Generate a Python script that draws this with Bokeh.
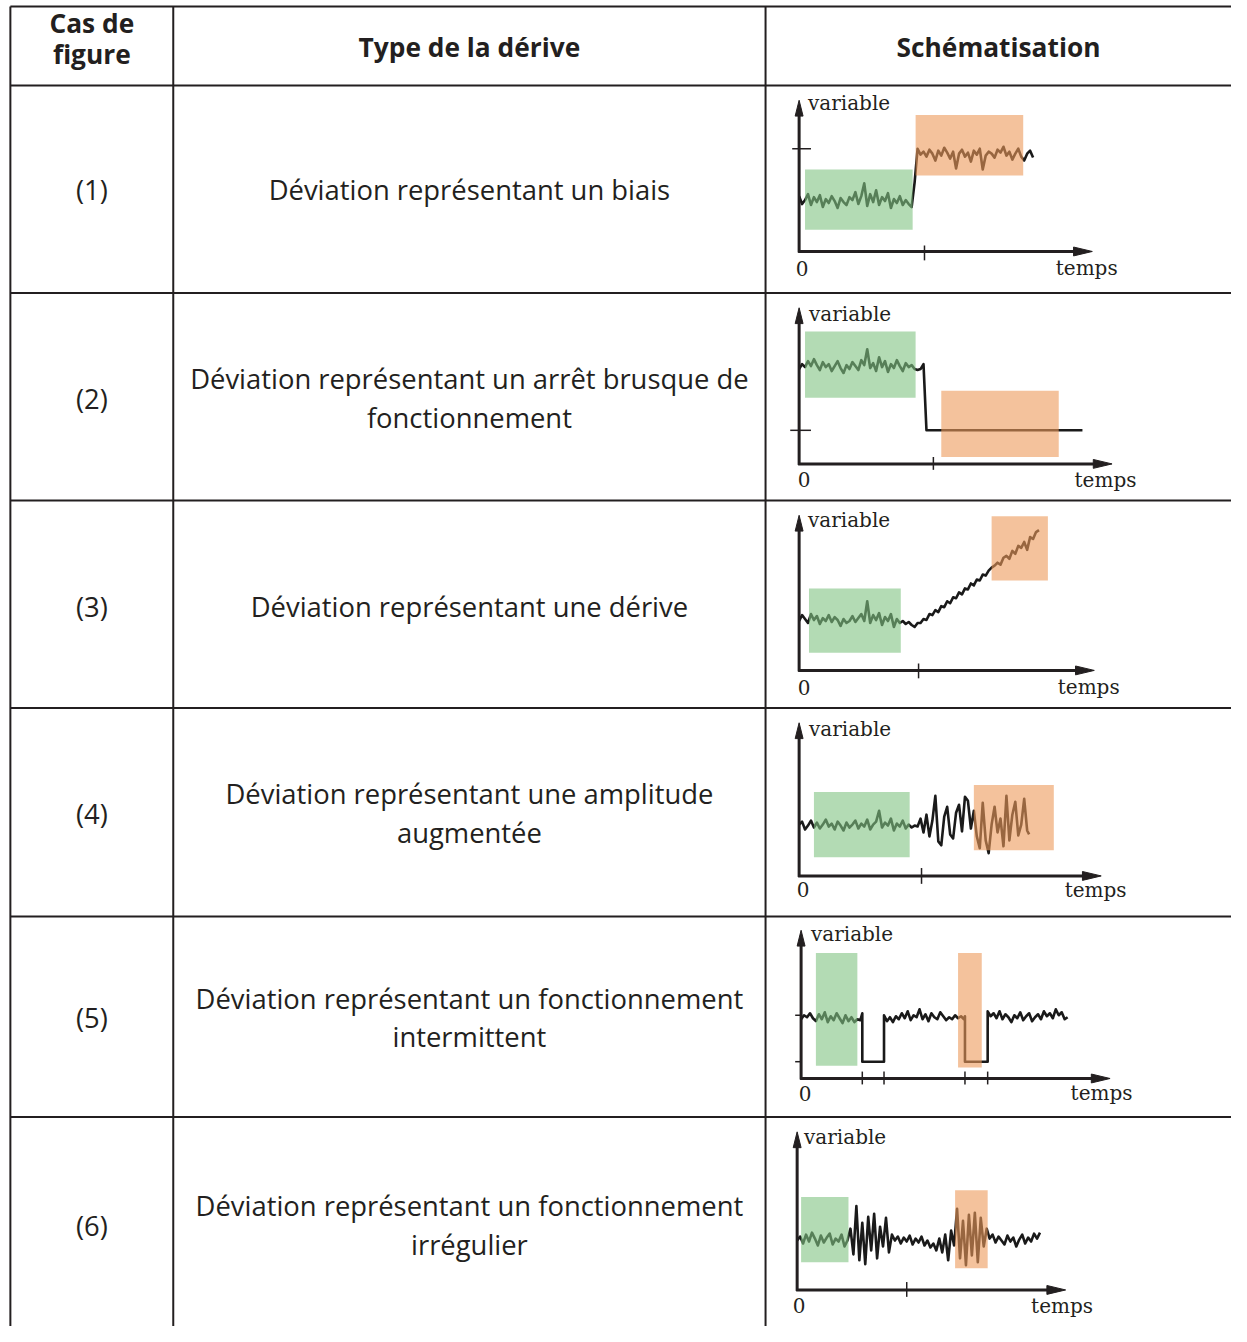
from bokeh.plotting import figure
from bokeh.models import Range1d
from bokeh.core.properties import value
from bokeh.embed import file_html
from bokeh.resources import INLINE

# ======================= DATA =======================
HEADERS = ["Type de la dérive", "Schématisation"]
HEADER_CASE = ["Cas de", "figure"]
CASES = ["(1)", "(2)", "(3)", "(4)", "(5)", "(6)"]
TYPE_LINES = [
    ["Déviation représentant un biais"],
    ["Déviation représentant un arrêt brusque de", "fonctionnement"],
    ["Déviation représentant une dérive"],
    ["Déviation représentant une amplitude", "augmentée"],
    ["Déviation représentant un fonctionnement", "intermittent"],
    ["Déviation représentant un fonctionnement", "irrégulier"],
]

# schematic signals (t = time, v = variable)
S1_T = list(range(0, 115, 3)) + [117] + list(range(120, 240, 3))
S1_V = [56, 48, 52, 58, 47, 55, 50, 57, 45, 53,
        49, 56, 51, 44, 54, 50, 47, 55, 52, 60,
        48, 56, 69, 46, 58, 50, 62, 47, 55, 51,
        59, 44, 53, 49, 56, 47, 52, 48, 45,
        70,
        104, 98, 101, 96, 103, 99, 92, 102, 97, 105,
        100, 94, 101, 84, 99, 103, 96, 100, 91, 102,
        98, 104, 83, 97, 101, 99, 95, 103, 100, 106,
        97, 101, 93, 99, 104, 96, 92, 99, 102, 95]

S2_T = list(range(0, 115, 3)) + [117, 120, 123, 126, 129, 287]
S2_V = [96, 101, 98, 104, 99, 106, 100, 95, 103, 98,
        101, 94, 99, 104, 97, 92, 100, 96, 103, 99,
        95, 105, 100, 116, 97, 102, 94, 108, 98, 104,
        93, 101, 97, 105, 99, 94, 102, 98, 100,
        96, 95, 96, 101, 34, 34]

S3_T = list(range(0, 103, 3)) + list(range(105, 121, 3)) + list(range(123, 244, 3))
S3_V = [50, 56, 52, 48, 57, 51, 55, 47, 53, 50,
        56, 49, 54, 51, 45, 52, 48, 50, 55, 49,
        53, 57, 50, 70, 48, 56, 51, 58, 46, 54,
        50, 57, 44, 52, 48,
        50, 47, 49, 46, 44, 48,
        48, 52, 51, 57, 56, 61, 59, 65, 64, 70,
        68, 74, 73, 79, 77, 83, 82, 88, 86, 92,
        91, 97, 96, 101, 104, 106, 109, 107, 114, 116,
        113, 121, 118, 126, 124, 130, 122, 135, 133, 140,
        142]

S4_T = list(range(0, 232, 3)) + [233]
S4_V = [52, 55, 47, 51, 56, 49, 54, 48, 52, 57,
        50, 53, 47, 55, 51, 46, 54, 49, 52, 56,
        48, 53, 50, 57, 47, 52, 55, 66, 49, 54,
        51, 58, 46, 53, 50, 56, 48, 52, 49, 51,
        50, 58, 44, 62, 40, 56, 81, 35, 31, 60,
        70, 42, 38, 64, 72, 45, 80, 76, 48, 66,
        40, 28, 74, 36, 23, 52, 70, 44, 58, 30,
        81, 36, 62, 75, 41, 52, 78, 46,
        42]

S5_T = (list(range(0, 61, 3)) + [62, 62, 84, 84] + list(range(87, 163, 3))
        + [165, 166, 166, 189, 189] + list(range(192, 271, 3)))
S5_V = [60, 64, 62, 66, 61, 58, 65, 60, 67, 57,
        63, 59, 66, 61, 56, 64, 58, 62, 57, 60, 59,
        66, 17, 17, 64,
        58, 62, 57, 63, 60, 66, 61, 68, 59, 64,
        62, 70, 60, 65, 58, 66, 62, 60, 67, 63,
        59, 62, 60, 64, 61, 63,
        60, 63, 17, 17, 68,
        63, 66, 61, 68, 60, 65, 62, 57, 64, 61,
        67, 59, 63, 66, 58, 62, 65, 60, 68, 63,
        66, 61, 70, 64, 67, 60, 62]

S6_T = list(range(0, 247, 3))
S6_V = [50, 54, 47, 56, 49, 58, 52, 45, 55, 48,
        53, 57, 46, 52, 49, 56, 44, 50, 62, 36,
        85, 30, 68, 26, 74, 40, 77, 32, 64, 44,
        73, 38, 56, 50, 54, 47, 53, 49, 55, 46,
        52, 48, 54, 45, 50, 43, 47, 40, 52, 38,
        56, 30, 60, 45, 82, 32, 70, 25, 76, 35,
        78, 28, 73, 44, 62, 52, 56, 48, 54, 50,
        46, 55, 49, 53, 44, 51, 56, 47, 53, 49,
        57, 52, 58]

SIGNALS = [(S1_T, S1_V), (S2_T, S2_V), (S3_T, S3_V),
           (S4_T, S4_V), (S5_T, S5_V), (S6_T, S6_V)]

# highlighted windows (t0, t1, v0, v1)
GREEN_BOXES = [(6, 115, 22, 83), (6, 118, 67, 134), (10, 103, 18, 83),
               (15, 112, 19, 85), (15, 57, 13, 127), (4, 52, 28, 94)]
ORANGE_BOXES = [(118, 227, 77, 138), (144, 263, 7, 74), (195, 252, 91, 156),
                (177, 258, 26, 92), (159, 183, 11, 127), (160, 193, 22, 101)]
X_TICKS = [[127], [136], [121], [124], [62, 84, 166, 189], [111]]
Y_TICKS = [[104], [34], [], [], [64, 17], []]

# ======================= LAYOUT / STYLE =======================
W, H = 1231, 1326            # figure size in screen px
RW, RH = 1247, 1342          # coordinate space (reference pixels)
INK = "#231f20"
SANS = "Open Sans"
SERIF = "DejaVu Serif"
COL_X = [10, 175, 775]
ROW_Y = [6, 86, 296, 506, 716, 927, 1130]
CASE_CX, TYPE_CX, SCHEM_CX = 92.5, 475, 1011
HEADER_CASE_Y = [23, 54]
HEADER_Y = 47
CASE_Y = [191, 403, 613, 823, 1029, 1240]
TYPE_Y = [[191], [383, 422], [613], [803, 842], [1010, 1049], [1220, 1259]]

ORIGINS = [(809, 254), (809, 469), (809, 678), (809, 886), (811, 1091), (807, 1305)]
AXIS_TOP = [153, 158, 157, 155, 150, 160]
AXIS_RIGHT = [297, 317, 299, 306, 313, 272]
YTICK_SPAN = [(-7, 12), (-9, 12), None, None, (-6, 0), None]
XTICK_SPAN = [(-9, 6), (-6, 7), (-8, 7), (-8, 8), (-6, 7), (-7, 8)]
VAR_POS = [(9, 150), (10, 152), (9, 152), (10, 149), (10, 146), (7, 155)]
TEMPS_POS = [(260, -17), (279, -16), (262, -17), (269, -14), (273, -15), (237, -16)]
ZERO_POS = [(3, -17), (5, -16), (5, -17), (4, -14), (4, -15), (2, -16)]

p = figure(width=W, height=H, x_range=Range1d(0, RW), y_range=Range1d(RH, 0),
           output_backend="svg", toolbar_location=None, min_border=0,
           x_axis_type=None, y_axis_type=None)
p.outline_line_color = None
p.background_fill_color = "white"
p.border_fill_color = "white"

# table grid
p.segment(x0=[COL_X[0]] * len(ROW_Y), x1=[RW] * len(ROW_Y), y0=ROW_Y, y1=ROW_Y,
          line_color=INK, line_width=2)
p.segment(x0=COL_X, x1=COL_X, y0=[ROW_Y[0]] * len(COL_X), y1=[RH] * len(COL_X),
          line_color=INK, line_width=2)

# header
p.text(x=[CASE_CX] * 2, y=HEADER_CASE_Y, text=HEADER_CASE, text_align="center",
       text_baseline="middle", text_font=value(SANS), text_font_style="bold",
       text_font_size="26.3px", text_color=INK)
p.text(x=[TYPE_CX, SCHEM_CX], y=[HEADER_Y] * 2, text=HEADERS, text_align="center",
       text_baseline="middle", text_font=value(SANS), text_font_style="bold",
       text_font_size="26.3px", text_color=INK)

# body text
p.text(x=[CASE_CX] * len(CASES), y=CASE_Y, text=CASES, text_align="center",
       text_baseline="middle", text_font=value(SANS), text_font_size="27.4px",
       text_color=INK)
tx, ty, tt = [], [], []
for ys, lines in zip(TYPE_Y, TYPE_LINES):
    for yy, line in zip(ys, lines):
        tx.append(TYPE_CX); ty.append(yy); tt.append(line)
p.text(x=tx, y=ty, text=tt, text_align="center", text_baseline="middle",
       text_font=value(SANS), text_font_size="27.4px", text_color=INK)

# schematics
for i, (ox, oy) in enumerate(ORIGINS):
    nm = f"s{i}"
    p.extra_x_ranges[nm] = Range1d(-ox, RW - ox)
    p.extra_y_ranges[nm] = Range1d(oy - RH, oy)
    kw = dict(x_range_name=nm, y_range_name=nm)

    t, v = SIGNALS[i]
    p.line(t, v, line_color="#1a1a1a", line_width=2.6, line_join="round", **kw)

    g = GREEN_BOXES[i]
    o = ORANGE_BOXES[i]
    p.quad(left=[g[0]], right=[g[1]], bottom=[g[2]], top=[g[3]],
           fill_color="#80c382", fill_alpha=0.6, line_color=None, **kw)
    p.quad(left=[o[0]], right=[o[1]], bottom=[o[2]], top=[o[3]],
           fill_color="#ed995a", fill_alpha=0.6, line_color=None, **kw)

    top = AXIS_TOP[i]
    rgt = AXIS_RIGHT[i]
    p.segment(x0=[0, -1], y0=[-1, 0], x1=[0, rgt - 10], y1=[top - 8, 0],
              line_color=INK, line_width=3, **kw)
    p.patches(xs=[[-4, 0, 4], [rgt - 19, rgt, rgt - 19]],
              ys=[[top - 16, top, top - 16], [-4.5, 0, 4.5]],
              fill_color=INK, line_color=INK, line_width=1, **kw)

    xt = X_TICKS[i]
    a, b = XTICK_SPAN[i]
    p.segment(x0=xt, x1=xt, y0=[a] * len(xt), y1=[b] * len(xt),
              line_color=INK, line_width=1.5, **kw)
    yt = Y_TICKS[i]
    if yt:
        a, b = YTICK_SPAN[i]
        p.segment(x0=[a] * len(yt), x1=[b] * len(yt), y0=yt, y1=yt,
                  line_color=INK, line_width=1.5, **kw)

    for pos, label, align in ((VAR_POS[i], "variable", "left"),
                              (TEMPS_POS[i], "temps", "left"),
                              (ZERO_POS[i], "0", "center")):
        p.text(x=[pos[0]], y=[pos[1]], text=[label], text_align=align,
               text_baseline="middle", text_font=value(SERIF), text_font_size="20px",
               text_color=INK, **kw)

open("out.html", "w").write(file_html(p, INLINE))
